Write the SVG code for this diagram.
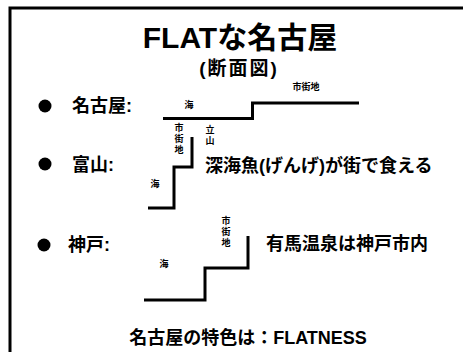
<svg xmlns="http://www.w3.org/2000/svg" width="463" height="352" viewBox="0 0 463 352">
<style>
text{font-family:"Liberation Sans","Noto Sans CJK JP",sans-serif;font-weight:bold;fill:#000}
.lbl{font-size:18px}
.sm{font-size:9px;text-anchor:middle}
.step{fill:none;stroke:#000;stroke-width:3}
</style>
<rect width="463" height="352" fill="#fff"/>
<path d="M10,352 V8 H463" fill="none" stroke="#000" stroke-width="3"/>
<g id="title">
<text x="240" y="48" font-size="30" text-anchor="middle">FLATな名古屋</text>
<text x="239" y="75" font-size="19" text-anchor="middle" letter-spacing="2">(断面図)</text>
</g>
<g id="nagoya">
<circle cx="45" cy="106" r="6.5"/>
<text class="lbl" x="72" y="112">名古屋:</text>
<text class="sm" x="189" y="108">海</text>
<text class="sm" x="306" y="90">市街地</text>
</g>
<g id="toyama">
<circle cx="45" cy="164" r="6.5"/>
<text class="lbl" x="72" y="171">富山:</text>
<text class="sm" x="179" y="131">市<tspan x="179" dy="11">街</tspan><tspan x="179" dy="11">地</tspan></text>
<text class="sm" x="210" y="133">立<tspan x="210" dy="11">山</tspan></text>
<text class="sm" x="155" y="187">海</text>
<text class="lbl" x="205" y="172">深海魚(げんげ)が街で食える</text>
</g>
<g id="kobe">
<circle cx="44" cy="245" r="6.5"/>
<text class="lbl" x="68" y="251">神戸:</text>
<text class="sm" x="226" y="224">市<tspan x="226" dy="11">街</tspan><tspan x="226" dy="11">地</tspan></text>
<text class="sm" x="164" y="267">海</text>
<text class="lbl" x="266" y="250">有馬温泉は神戸市内</text>
</g>
<g id="connectors">
<path class="step" d="M163,118.5 H252.5 V103 H359"/>
<path class="step" d="M148,208 H174 V167 H192 V137"/>
<path class="step" d="M144,300 H205 V268 H248 V236"/>
</g>
<g id="footer">
<text x="248" y="344" font-size="18" text-anchor="middle">名古屋の特色は：FLATNESS</text>
</g>
</svg>
